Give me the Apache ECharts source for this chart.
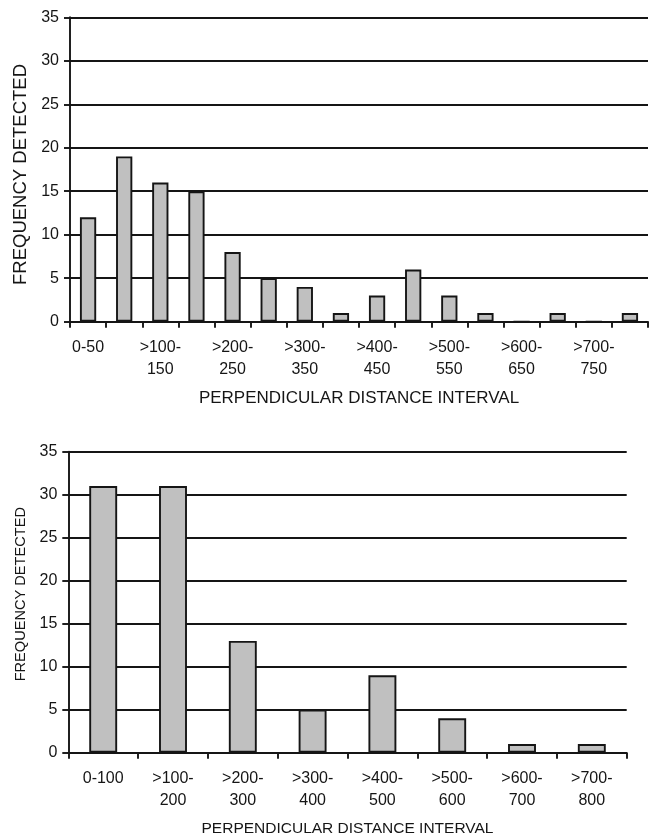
<!DOCTYPE html>
<html>
<head>
<meta charset="utf-8">
<script src="https://cdn.jsdelivr.net/npm/echarts@6/dist/echarts.min.js"></script>
<style>
html,body{margin:0;padding:0;background:#fff;}
#c{width:651px;height:838px;}
</style>
</head>
<body>
<div id="c"></div>
<script>
// Top panel: 50 m intervals
const topCategories = ['0-50','>50-100','>100-150','>150-200','>200-250','>250-300','>300-350','>350-400',
  '>400-450','>450-500','>500-550','>550-600','>600-650','>650-700','>700-750','>750-800'];
const topValues = [12,19,16,15,8,5,4,1,3,6,3,1,0,1,0,1];

// Bottom panel: 100 m intervals
const bottomCategories = ['0-100','>100-200','>200-300','>300-400','>400-500','>500-600','>600-700','>700-800'];
const bottomValues = [31,31,13,5,9,4,1,1];

const yMin = 0, yMax = 35, yStep = 5;
const xTitle = 'PERPENDICULAR DISTANCE INTERVAL';
const yTitle = 'FREQUENCY DETECTED';

const FONT = '"Liberation Sans", Arial, sans-serif';
const INK = '#151515';
const LW = 1.9;

function fmt(v){ return v.charAt(0) === '>' ? v.replace('-', '-\n') : v; }

function xAxisCfg(gridIndex, cats, labelInterval, nameSize){
  return {
    type:'category', gridIndex, data:cats, boundaryGap:true,
    axisLine:{show:true, lineStyle:{color:INK, width:LW}},
    axisTick:{show:true, inside:false, length:6, interval:0, lineStyle:{color:INK, width:LW}},
    axisLabel:{interval:labelInterval, formatter:fmt, color:INK, fontFamily:FONT, fontSize:16, lineHeight:22, margin:15},
    name:xTitle, nameLocation:'middle', nameGap:68,
    nameTextStyle:{color:INK, fontFamily:FONT, fontSize:nameSize}
  };
}
function yAxisCfg(gridIndex, nameSize, nameGap, pad){
  return {
    type:'value', gridIndex, min:yMin, max:yMax, interval:yStep,
    axisLine:{show:true, lineStyle:{color:INK, width:LW}},
    axisTick:{show:true, inside:false, length:6, lineStyle:{color:INK, width:LW}},
    axisLabel:{color:INK, fontFamily:FONT, fontSize:16, margin:11},
    splitLine:{show:true, lineStyle:{color:INK, width:LW}},
    name:yTitle, nameLocation:'middle', nameGap:nameGap, nameRotate:90,
    nameTextStyle:{color:INK, fontFamily:FONT, fontSize:nameSize, padding:pad}
  };
}

const chart = echarts.init(document.getElementById('c'), null, {renderer:'canvas'});
chart.setOption({
  backgroundColor:'#fff',
  animation:false,
  grid:[
    {left:70, right:3, top:17.3, height:304.4},
    {left:68.3, right:24.3, top:451.7, height:301}
  ],
  xAxis:[ xAxisCfg(0, topCategories, 1, 17), xAxisCfg(1, bottomCategories, 0, 15.5) ],
  yAxis:[ yAxisCfg(0, 18.5, 38, [0,10,0,0]), yAxisCfg(1, 14.6, 36, [0,0,0,16]) ],
  series:[
    {type:'bar', xAxisIndex:0, yAxisIndex:0, data:topValues, barWidth:'45%',
     itemStyle:{color:'#c0c0c0', borderColor:INK, borderWidth:LW}},
    {type:'bar', xAxisIndex:1, yAxisIndex:1, data:bottomValues, barWidth:'40%',
     itemStyle:{color:'#c0c0c0', borderColor:INK, borderWidth:LW}}
  ]
});
</script>
</body>
</html>
